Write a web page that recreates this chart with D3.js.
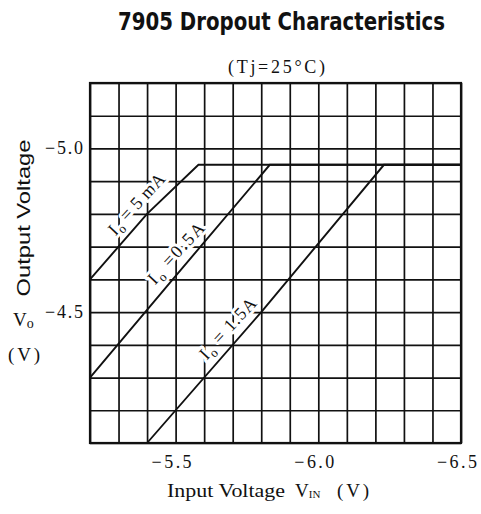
<!DOCTYPE html>
<html>
<head>
<meta charset="utf-8">
<script src="https://cdn.jsdelivr.net/npm/d3@7"></script>
<style>
  html, body { margin: 0; padding: 0; background: #fff; }
  svg { display: block; }
  .serif { font-family: "Liberation Serif", "DejaVu Serif", "Times New Roman", serif; }
  .sans { font-family: "Liberation Sans", Arial, "DejaVu Sans", sans-serif; }
  .narrow { font-family: "Liberation Sans Narrow", "DejaVu Sans Condensed", "Liberation Sans", sans-serif; }
</style>
</head>
<body>
<svg id="chart" width="481" height="514"></svg>
<script>
// ---- data ----
const xDomain = [-5.2, -6.5];          // Input voltage VIN (V)
const yDomain = [-5.2, -4.1];          // Output voltage Vo (V)
const xTickValues = [-5.5, -6.0, -6.5];
const xTickLabels = ["\u22125.5", "\u22126.0", "\u22126.5"];
const yTickValues = [-5.0, -4.5];
const yTickLabels = ["\u22125.0", "\u22124.5"];
const seriesNames = ["5 mA", "0.5A", "1.5A"];
const vin5mA  = [-5.2, -5.3, -5.4, -5.58, -6.5];
const vo5mA   = [-4.6, -4.7, -4.8, -4.95, -4.95];
const vin05A  = [-5.2, -5.49, -5.83, -6.5];
const vo05A   = [-4.3, -4.6, -4.95, -4.95];
const vin15A  = [-5.4, -5.8, -6.23, -6.5];
const vo15A   = [-4.1, -4.5, -4.95, -4.95];
const labelVo = [-4.8, -4.65, -4.42];   // where each Io label sits along its curve

// ---- layout ----
const svg = d3.select("#chart");
const L = 90, R = 461, T = 83, B = 443;
const x = d3.scaleLinear().domain(xDomain).range([L, R]);
const y = d3.scaleLinear().domain(yDomain).range([T, B]);

// grid
const xGrid = d3.axisBottom(x).ticks(13).tickSize(-(B - T)).tickFormat("");
const yGrid = d3.axisLeft(y).ticks(11).tickSize(-(R - L)).tickFormat("");
const gx = svg.append("g").attr("transform", `translate(0,${B})`).call(xGrid);
const gy = svg.append("g").attr("transform", `translate(${L},0)`).call(yGrid);
[gx, gy].forEach(g => {
  g.select(".domain").remove();
  g.selectAll("line").attr("stroke", "#111").attr("stroke-width", 1.7);
});

const series = [
  { name: seriesNames[0], vin: vin5mA, vo: vo5mA, sep: " = " },
  { name: seriesNames[1], vin: vin05A, vo: vo05A, sep: " =" },
  { name: seriesNames[2], vin: vin15A, vo: vo15A, sep: " = " }
];

// curve labels (along each diagonal), drawn under the curves
const ang = -47;
const labelLayer = svg.append("g");
series.forEach((s, k) => {
  const vo = labelVo[k];
  let vin = s.vin[0];
  for (let i = 0; i < s.vo.length - 1; i++) {
    const a = s.vo[i], b = s.vo[i + 1];
    if (vo <= a && vo >= b && a !== b) {
      vin = s.vin[i] + (vo - a) / (b - a) * (s.vin[i + 1] - s.vin[i]);
      break;
    }
  }
  const px = x(vin), py = y(vo);
  const rad = ang * Math.PI / 180;
  const d = 14;
  const cx = px + d * Math.sin(rad), cy = py - d * Math.cos(rad);
  const t = labelLayer.append("text").attr("class", "serif")
    .attr("transform", `translate(${cx},${cy}) rotate(${ang})`)
    .attr("text-anchor", "middle").attr("dy", "0.35em")
    .attr("font-size", 18).attr("fill", "#111")
    .attr("textLength", 76).attr("lengthAdjust", "spacing")
    .attr("stroke", "#fff").attr("stroke-width", 6).attr("paint-order", "stroke")
    .attr("stroke-linejoin", "round");
  t.append("tspan").text("I");
  t.append("tspan").attr("font-size", 13).attr("dy", "0.3em").text("o");
  t.append("tspan").attr("dy", "-0.3em").text(s.sep + s.name);
});

// frame
svg.append("rect").attr("x", L).attr("y", T).attr("width", R - L).attr("height", B - T)
  .attr("fill", "none").attr("stroke", "#111").attr("stroke-width", 2.2);

// curves
const line = d3.line().x(d => x(d[0])).y(d => y(d[1]));
series.forEach(s => {
  svg.append("path")
    .attr("d", line(s.vin.map((v, i) => [v, s.vo[i]])))
    .attr("fill", "none").attr("stroke", "#111").attr("stroke-width", 1.9)
    .attr("stroke-linejoin", "miter");
});

// x tick labels
svg.append("g").selectAll("text").data(xTickValues).join("text")
  .attr("class", "serif")
  .attr("x", d => x(d) - 4).attr("y", 468)
  .attr("text-anchor", "middle")
  .attr("font-size", 18).attr("fill", "#111")
  .attr("textLength", 40).attr("lengthAdjust", "spacing")
  .text((d, i) => xTickLabels[i]);

// y tick labels
svg.append("g").selectAll("text").data(yTickValues).join("text")
  .attr("class", "serif")
  .attr("x", L - 7).attr("y", d => y(d)).attr("dy", 6)
  .attr("text-anchor", "end")
  .attr("font-size", 18).attr("fill", "#111")
  .attr("textLength", 38).attr("lengthAdjust", "spacing")
  .text((d, i) => yTickLabels[i]);

// title
svg.append("text").attr("class", "narrow").attr("x", 118).attr("y", 30)
  .attr("font-weight", "bold").attr("font-size", 24).attr("fill", "#111")
  .attr("textLength", 327).attr("lengthAdjust", "spacingAndGlyphs")
  .text("7905 Dropout Characteristics");
svg.append("text").attr("class", "serif").attr("x", 228).attr("y", 73)
  .attr("font-size", 18).attr("fill", "#111")
  .attr("textLength", 97).attr("lengthAdjust", "spacing")
  .text("(Tj=25\u00B0C)");

// y axis title
svg.append("text").attr("class", "sans").attr("transform", "translate(30,218) rotate(-90)")
  .attr("text-anchor", "middle")
  .attr("font-size", 19).attr("fill", "#111")
  .attr("textLength", 157).attr("lengthAdjust", "spacingAndGlyphs")
  .text("Output Voltage");
const vo = svg.append("text").attr("class", "serif").attr("x", 13).attr("y", 326)
  .attr("font-size", 19).attr("fill", "#111");
vo.append("tspan").text("V");
vo.append("tspan").attr("font-size", 14).attr("dy", 2).text("o");
svg.append("text").attr("class", "serif").attr("x", 8).attr("y", 361)
  .attr("font-size", 19).attr("fill", "#111")
  .attr("textLength", 32).attr("lengthAdjust", "spacing")
  .text("(V)");

// x axis title
svg.append("text").attr("class", "serif").attr("x", 167).attr("y", 497)
  .attr("font-size", 19).attr("fill", "#111")
  .attr("textLength", 118).attr("lengthAdjust", "spacingAndGlyphs")
  .text("Input Voltage");
const vinT = svg.append("text").attr("class", "serif").attr("x", 295).attr("y", 497)
  .attr("font-size", 19).attr("fill", "#111");
vinT.append("tspan").text("V");
vinT.append("tspan").attr("font-size", 11).attr("dy", 1).text("IN");
svg.append("text").attr("class", "serif").attr("x", 337).attr("y", 497)
  .attr("font-size", 19).attr("fill", "#111")
  .attr("textLength", 32).attr("lengthAdjust", "spacing")
  .text("(V)");
</script>
</body>
</html>
